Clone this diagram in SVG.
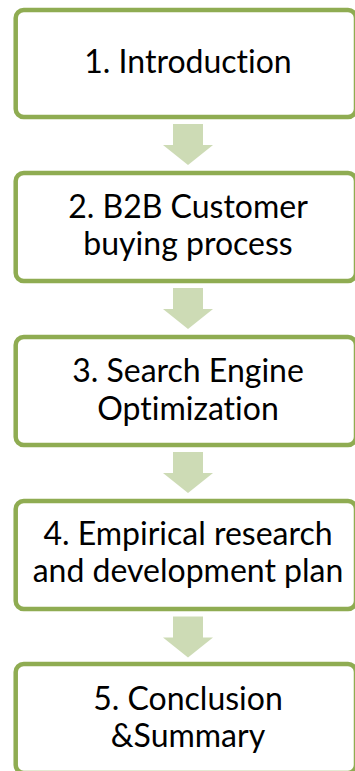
<svg xmlns="http://www.w3.org/2000/svg" width="355" height="771" viewBox="0 0 355 771">
<style>
.box{fill:#ffffff;stroke:#8fac52;stroke-width:4.5}
.arr{fill:#cddbb5;stroke:none}
.t{font-family:Lato,"Noto Sans",sans-serif;font-size:32px;fill:#000000;text-anchor:middle;font-variant-ligatures:none}
</style>
<rect width="355" height="771" fill="#ffffff"/>
<g id="connectors">
<polygon class="arr" points="173,124 203,124 203,145 213,145 188,165 163,145 173,145"/>
<polygon class="arr" points="173,288 203,288 203,309 213,309 188,329 163,309 173,309"/>
<polygon class="arr" points="173,452 203,452 203,473 213,473 188,493 163,473 173,473"/>
<polygon class="arr" points="173,616.5 203,616.5 203,637.5 213,637.5 188,657.5 163,637.5 173,637.5"/>
</g>
<g id="node1">
<rect class="box" x="15.7" y="10" width="340.3" height="107" rx="8"/>
<text class="t" x="188" y="72.7">1. Introduction</text>
</g>
<g id="node2">
<rect class="box" x="15.7" y="173" width="340.3" height="108" rx="8"/>
<text class="t" x="188" y="218.3">2. B2B Customer</text>
<text class="t" x="188" y="255">buying process</text>
</g>
<g id="node3">
<rect class="box" x="15.7" y="337" width="340.3" height="108" rx="8"/>
<text class="t" x="188" y="382.3">3. Search Engine</text>
<text class="t" x="188" y="420">Optimization</text>
</g>
<g id="node4">
<rect class="box" x="15.7" y="501" width="340.3" height="108" rx="8"/>
<text class="t" x="188" y="545">4. Empirical research</text>
<text class="t" x="188" y="581.7">and development plan</text>
</g>
<g id="node5">
<rect class="box" x="15.7" y="664" width="340.3" height="109" rx="8"/>
<text class="t" x="188" y="710">5. Conclusion</text>
<text class="t" x="188" y="746.7">&amp;Summary</text>
</g>
</svg>
